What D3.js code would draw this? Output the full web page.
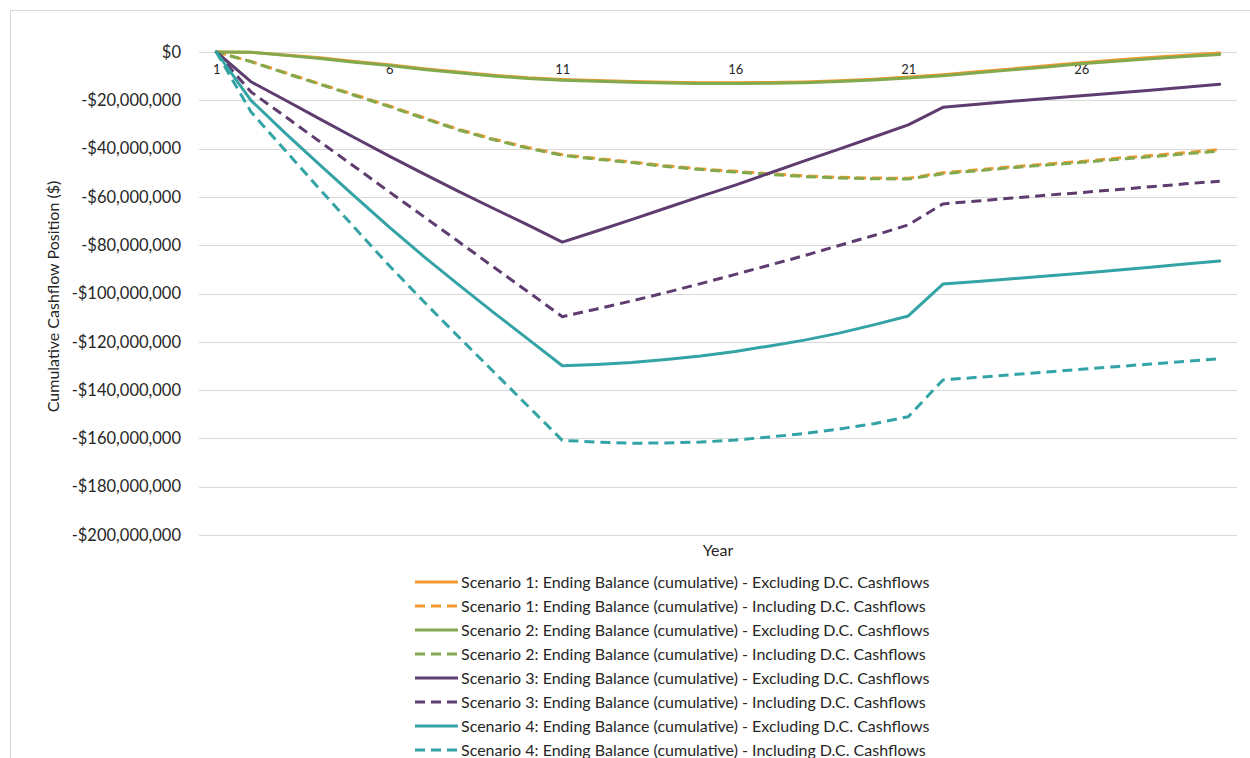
<!DOCTYPE html>
<html>
<head>
<meta charset="utf-8">
<script src="https://cdn.jsdelivr.net/npm/d3@7"></script>
<style>
  html, body { margin: 0; padding: 0; background: #fff; }
  svg { display: block; font-family: Lato, "Open Sans", sans-serif; }
</style>
</head>
<body>
<svg id="chart" width="1250" height="758"></svg>
<script>
// Years on the category axis
const years = [1, 2, 3, 4, 5, 6, 7, 8, 9, 10, 11, 12, 13, 14, 15, 16, 17, 18, 19, 20,
               21, 22, 23, 24, 25, 26, 27, 28, 29, 30];
// Year labels shown on the axis
const yearLabels = [1, 6, 11, 16, 21, 26];
// Gridline / tick values, in $ millions
const yTicks = [0, -20, -40, -60, -80, -100, -120, -140, -160, -180, -200];

// Cumulative ending balance by year, in $ millions
const s1Excl = [0, -0.1, -1.2, -2.4, -3.9, -5.3, -6.9, -8.3, -9.6, -10.7, -11.4, -11.8, -12.2, -12.5, -12.7,
                -12.7, -12.6, -12.4, -11.9, -11.3, -10.4, -9.4, -8.2, -7.0, -5.7, -4.4, -3.3, -2.3, -1.3, -0.4];
const s1Incl = [0, -3.9, -8.6, -13.2, -17.7, -22.3, -27.2, -32.0, -36.0, -39.5, -42.5, -44.1, -45.5, -47.1, -48.4,
                -49.4, -50.4, -51.3, -51.9, -52.2, -52.3, -50.0, -48.8, -47.5, -46.4, -45.3, -44.0, -42.9, -41.7, -40.4];
const s2Excl = [0, -0.1, -1.4, -2.7, -4.2, -5.6, -7.2, -8.6, -9.9, -11.0, -11.7, -12.1, -12.5, -12.8, -13.0,
                -13.0, -12.9, -12.7, -12.2, -11.6, -10.8, -9.8, -8.6, -7.4, -6.2, -4.9, -3.8, -2.8, -1.9, -1.0];
const s2Incl = [0, -4.0, -8.8, -13.4, -18.0, -22.6, -27.5, -32.3, -36.3, -39.8, -42.8, -44.4, -45.8, -47.4, -48.7,
                -49.7, -50.7, -51.6, -52.2, -52.5, -52.6, -50.4, -49.2, -47.9, -46.8, -45.7, -44.5, -43.4, -42.2, -41.0];
const s3Excl = [0, -12.3, -20.0, -27.8, -35.5, -43.1, -50.5, -57.7, -64.7, -71.6, -78.7, -74.1, -69.4, -64.6, -59.8,
                -55.1, -50.1, -45.1, -40.2, -35.2, -30.2, -22.9, -21.6, -20.4, -19.3, -18.1, -17.0, -15.8, -14.6, -13.4];
const s3Incl = [0, -16.5, -26.8, -37.2, -47.5, -57.9, -68.2, -78.5, -88.9, -99.2, -109.6, -106.4, -103.1, -99.6, -95.9,
                -92.1, -88.2, -84.3, -80.1, -76.0, -71.6, -62.9, -61.7, -60.5, -59.3, -58.2, -57.0, -55.8, -54.6, -53.5];
const s4Excl = [0, -20.0, -33.7, -46.8, -59.8, -72.5, -84.7, -96.3, -107.7, -118.8, -129.9, -129.4, -128.6, -127.3, -125.9,
                -124.0, -121.7, -119.3, -116.4, -113.0, -109.3, -96.1, -95.0, -93.9, -92.8, -91.6, -90.4, -89.1, -87.8, -86.5];
const s4Incl = [0, -24.7, -40.9, -57.0, -72.8, -88.5, -103.4, -117.9, -132.2, -146.5, -160.8, -161.5, -162.0, -161.9, -161.5,
                -160.7, -159.4, -158.0, -156.1, -153.9, -151.0, -135.8, -134.7, -133.6, -132.5, -131.4, -130.3, -129.2, -128.1, -127.0];

const seriesNames = [
  "Scenario 1: Ending Balance (cumulative) - Excluding D.C. Cashflows",
  "Scenario 1: Ending Balance (cumulative) - Including D.C. Cashflows",
  "Scenario 2: Ending Balance (cumulative) - Excluding D.C. Cashflows",
  "Scenario 2: Ending Balance (cumulative) - Including D.C. Cashflows",
  "Scenario 3: Ending Balance (cumulative) - Excluding D.C. Cashflows",
  "Scenario 3: Ending Balance (cumulative) - Including D.C. Cashflows",
  "Scenario 4: Ending Balance (cumulative) - Excluding D.C. Cashflows",
  "Scenario 4: Ending Balance (cumulative) - Including D.C. Cashflows"
];
const seriesValues = [s1Excl, s1Incl, s2Excl, s2Incl, s3Excl, s3Incl, s4Excl, s4Incl];
const seriesColors = ["#F0992E", "#F0992E", "#82A94E", "#82A94E", "#5E3C70", "#5E3C70", "#34A3A5", "#34A3A5"];
const seriesDashed = [false, true, false, true, false, true, false, true];
// Small dash phase shift so overlapping dashed series stay distinguishable
const seriesDashOffset = [0, 0, 0, 2, 0, 0, 0, 0];

const svg = d3.select("#chart");

// Chart area frame
svg.append("rect")
  .attr("x", 10.5).attr("y", 10.5)
  .attr("width", 1250).attr("height", 800)
  .attr("fill", "none").attr("stroke", "#d9d9d9").attr("stroke-width", 1);

const plot = { left: 199, right: 1237, top: 52, bottom: 535 };

const x = d3.scalePoint().domain(years).range([plot.left, plot.right]).padding(0.5);
const y = d3.scaleLinear().domain([-200, 0]).range([plot.bottom, plot.top]);

const fmtMoney = v => {
  const dollars = Math.round(v * 1e6);
  const s = "$" + d3.format(",")(Math.abs(dollars));
  return dollars < 0 ? "-" + s : s;
};

// Horizontal gridlines
svg.append("g")
  .selectAll("line")
  .data(yTicks)
  .join("line")
  .attr("x1", plot.left).attr("x2", plot.right)
  .attr("y1", d => Math.round(y(d)) + 0.5).attr("y2", d => Math.round(y(d)) + 0.5)
  .attr("stroke", "#d9d9d9").attr("stroke-width", 1);

// Y axis labels
const yAxis = d3.axisLeft(y).tickValues(yTicks).tickFormat(fmtMoney).tickSize(0).tickPadding(0);
const yg = svg.append("g").attr("transform", `translate(181,0)`).call(yAxis);
yg.select(".domain").remove();
yg.selectAll("text")
  .attr("font-family", "Lato, sans-serif")
  .attr("font-size", "16.5px")
  .attr("fill", "#262626");

// X axis labels, sitting just under the $0 line
const xAxis = d3.axisBottom(x).tickValues(yearLabels).tickSize(0).tickPadding(0);
const xg = svg.append("g").attr("transform", `translate(0,${y(0) + 13})`).call(xAxis);
xg.select(".domain").remove();
xg.selectAll("text")
  .attr("font-family", "Lato, sans-serif")
  .attr("font-size", "13px")
  .attr("fill", "#262626");

// Series lines
const line = d3.line()
  .x((d, i) => x(years[i]))
  .y(d => y(d));

const linesG = svg.append("g");
seriesValues.forEach((vals, i) => {
  linesG.append("path")
    .datum(vals)
    .attr("d", line)
    .attr("fill", "none")
    .attr("stroke", seriesColors[i])
    .attr("stroke-width", 3)
    .attr("stroke-linejoin", "round")
    .attr("stroke-linecap", seriesDashed[i] ? "butt" : "round")
    .attr("stroke-dasharray", seriesDashed[i] ? "10,6" : null)
    .attr("stroke-dashoffset", seriesDashOffset[i]);
});

// Axis titles
svg.append("text")
  .attr("transform", `translate(59,${(plot.top + plot.bottom) / 2 + 3}) rotate(-90)`)
  .attr("text-anchor", "middle")
  .attr("font-family", "Lato, sans-serif")
  .attr("font-size", "16px")
  .attr("fill", "#262626")
  .text("Cumulative Cashflow Position ($)");

svg.append("text")
  .attr("x", (plot.left + plot.right) / 2)
  .attr("y", 556)
  .attr("text-anchor", "middle")
  .attr("font-family", "Lato, sans-serif")
  .attr("font-size", "16px")
  .attr("fill", "#262626")
  .text("Year");

// Legend
const legend = svg.append("g");
seriesNames.forEach((name, i) => {
  const cy = 582 + i * 24;
  legend.append("line")
    .attr("x1", 415).attr("x2", 458)
    .attr("y1", cy).attr("y2", cy)
    .attr("stroke", seriesColors[i])
    .attr("stroke-width", 3)
    .attr("stroke-dasharray", seriesDashed[i] ? "10,6" : null);
  legend.append("text")
    .attr("x", 461).attr("y", cy)
    .attr("dy", "0.35em")
    .attr("font-family", "Lato, sans-serif")
    .attr("font-size", "16px")
    .attr("fill", "#262626")
    .text(name);
});
</script>
</body>
</html>
